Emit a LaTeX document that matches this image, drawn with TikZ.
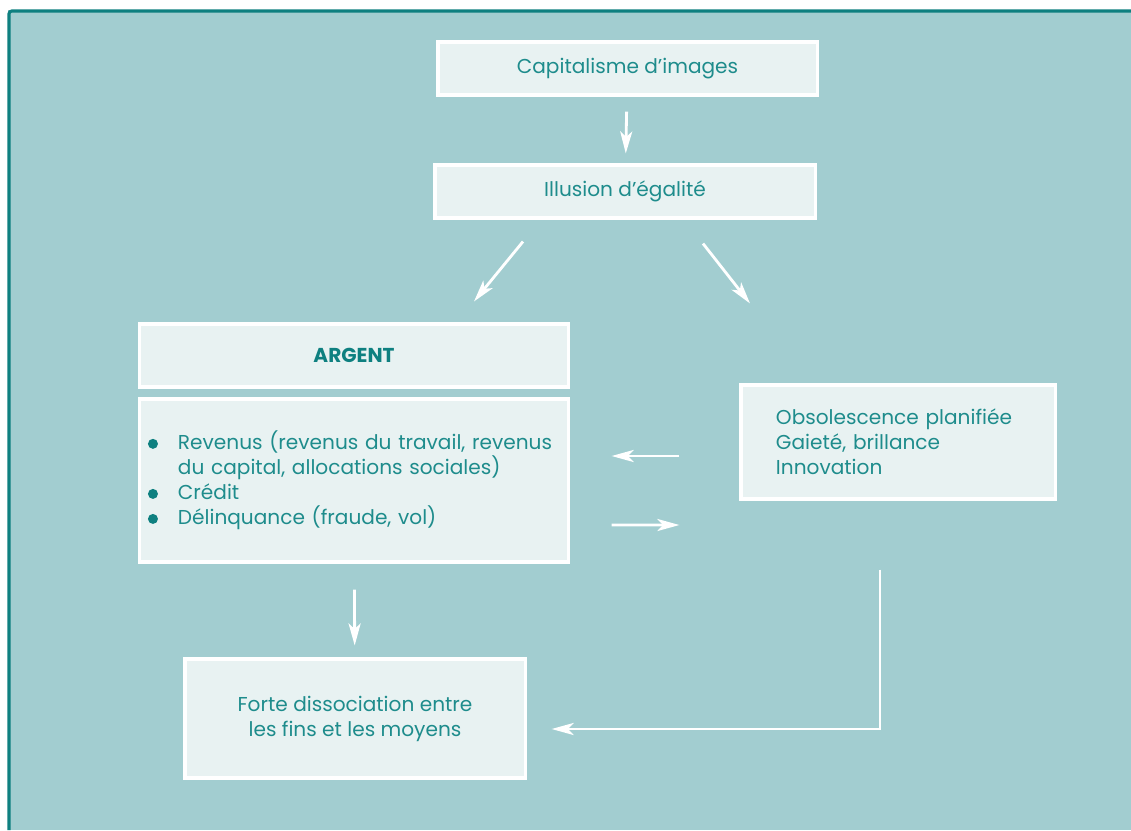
\documentclass[tikz,border=0pt]{standalone}
\usepackage{fontspec}
\setmainfont{Poppins}
\usetikzlibrary{arrows.meta,calc}
\definecolor{fond}{HTML}{A2CDD0}
\definecolor{cadre}{HTML}{0E8080}
\definecolor{boite}{HTML}{E8F2F2}
\definecolor{texte}{HTML}{1E8C8C}
\newcommand{\puce}{\makebox[0.75cm][l]{\tikz[baseline=-4.2pt]\fill[cadre] (0,0) circle (0.125cm);}}
\begin{document}
\begin{tikzpicture}[x=0.025cm,y=-0.025cm,
    boite/.style={draw=white,line width=2.2pt,fill=boite,text=texte,
      font=\fontsize{14.3}{17.8}\selectfont,inner sep=0pt},
    fleche/.style={draw=white,line width=2pt,
      -{Stealth[length=0.55cm,width=0.3cm,inset=0.14cm]}}]
    \useasboundingbox (0,0) rectangle (1131,830);
    \fill[white] (0,0) rectangle (1131,830);
    \fill[fond] (8,10) rectangle (1131,830);
    \draw[cadre,line width=2.2pt,rounded corners=2pt] (9,830) -- (9,11) -- (1131,11);

    \node[boite,minimum width=9.475cm,minimum height=1.325cm] (cap) at (627.5,68.5) {Capitalisme d’images};
    \node[boite,minimum width=9.5cm,minimum height=1.325cm] (illu) at (625,191.5) {Illusion d’égalité};
    \node[boite,minimum width=10.7cm,minimum height=1.575cm,text=cadre,
      font=\fontsize{14.3}{16}\selectfont\bfseries] (argent) at (354,355.5) {ARGENT};
    \node[boite,minimum width=10.7cm,minimum height=4.075cm,text width=10.3cm,align=left] (liste) at (354,480.5) {%
      \puce Revenus (revenus du travail, revenus\\
      \hspace*{0.75cm}du capital, allocations sociales)\\
      \puce Crédit\\
      \puce Délinquance (fraude, vol)};
    \node[boite,minimum width=7.85cm,minimum height=2.85cm,text width=6.1cm,align=left] (obso) at (898,442) {%
      Obsolescence planifiée\\
      Gaieté, brillance\\
      Innovation};
    \node[boite,minimum width=8.5cm,minimum height=2.975cm,align=center] (forte) at (355,718.5) {%
      Forte dissociation entre\\
      les fins et les moyens};

    \draw[fleche,shorten <=0.375cm,shorten >=0.25cm] (cap) -- (illu);
    \draw[fleche] ($(illu.south)+(-102,22)$) -- ($(argent.north)+(120,-21)$);
    \draw[fleche] ($(illu.south)+(78,24)$) -- ($(obso.north)+(-148,-80)$);
    \draw[fleche] ($(obso.west)+(-60,14)$) -- ($(liste.east)+(42,-24.5)$);
    \draw[fleche] ($(liste.east)+(42,44.5)$) -- ($(obso.west)+(-60,83)$);
    \draw[fleche,shorten <=0.65cm,shorten >=0.3cm] (liste) -- (forte);
    \draw[fleche] ($(obso.south)+(-18,69)$) |- ($(forte.east)+(25,10.5)$);
  \end{tikzpicture}
\end{document}
